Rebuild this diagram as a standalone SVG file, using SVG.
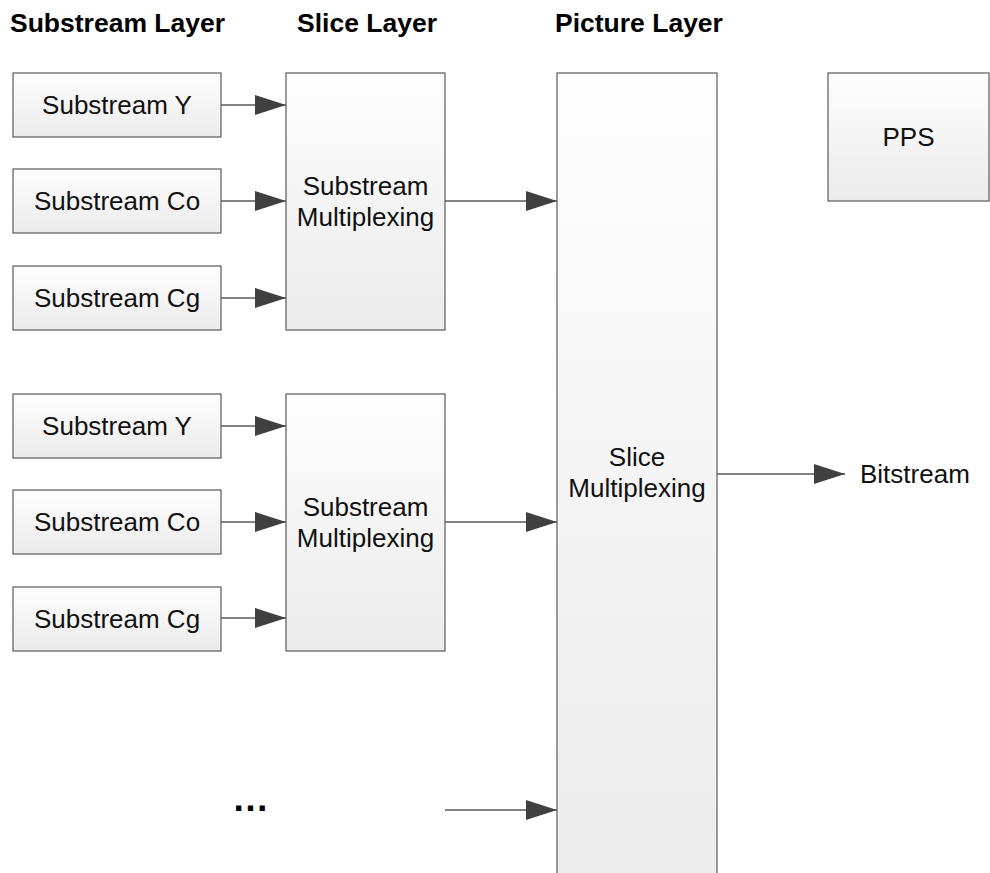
<svg xmlns="http://www.w3.org/2000/svg" width="990" height="873" viewBox="0 0 990 873">
<defs>
<linearGradient id="g" x1="0" y1="0" x2="0" y2="1">
<stop offset="0" stop-color="#fefefe"/>
<stop offset="1" stop-color="#ebebeb"/>
</linearGradient>
<marker id="ah" markerWidth="31" markerHeight="20" refX="31" refY="10" orient="auto" markerUnits="userSpaceOnUse">
<path d="M0,0 L31,10 L0,20 Z" fill="#404040"/>
</marker>
<style>
.box{fill:url(#g);stroke:#5a5a5a;stroke-width:1.2}
.t{font-family:"Liberation Sans",Arial,sans-serif;font-size:26px;fill:#111;text-anchor:middle}
.h{font-family:"Liberation Sans",Arial,sans-serif;font-size:26.5px;font-weight:bold;fill:#000}
.c{stroke:#5a5a5a;stroke-width:1.3;fill:none;marker-end:url(#ah)}
</style>
</defs>
<rect width="990" height="873" fill="#fff"/>
<g id="headers">
<text class="h" x="10" y="32">Substream Layer</text>
<text class="h" x="297" y="32">Slice Layer</text>
<text class="h" x="555" y="32">Picture Layer</text>
</g>
<g id="sy1"><rect class="box" x="13" y="73" width="208" height="64"/><text class="t" x="117" y="114">Substream Y</text></g>
<g id="sco1"><rect class="box" x="13" y="169" width="208" height="64"/><text class="t" x="117" y="210">Substream Co</text></g>
<g id="scg1"><rect class="box" x="13" y="266" width="208" height="64"/><text class="t" x="117" y="307">Substream Cg</text></g>
<g id="sy2"><rect class="box" x="13" y="394" width="208" height="64"/><text class="t" x="117" y="435">Substream Y</text></g>
<g id="sco2"><rect class="box" x="13" y="490" width="208" height="64"/><text class="t" x="117" y="531">Substream Co</text></g>
<g id="scg2"><rect class="box" x="13" y="587" width="208" height="64"/><text class="t" x="117" y="628">Substream Cg</text></g>
<g id="mux1"><rect class="box" x="286" y="73" width="159" height="257"/><text class="t" x="365.5" y="195">Substream</text><text class="t" x="365.5" y="226">Multiplexing</text></g>
<g id="mux2"><rect class="box" x="286" y="394" width="159" height="257"/><text class="t" x="365.5" y="516">Substream</text><text class="t" x="365.5" y="547">Multiplexing</text></g>
<g id="picture"><rect class="box" x="557" y="73" width="160" height="830"/><text class="t" x="637" y="466">Slice</text><text class="t" x="637" y="497">Multiplexing</text></g>
<g id="pps"><rect class="box" x="828" y="73" width="161" height="128"/><text class="t" x="908.5" y="146">PPS</text></g>
<g id="bitstream"><text class="t" x="860" y="483" style="text-anchor:start">Bitstream</text></g>
<g id="ellipsis"><text class="h" x="232" y="811" style="font-size:37px">…</text></g>
<g id="connectors">
<line class="c" x1="221" y1="105" x2="286" y2="105"/>
<line class="c" x1="221" y1="201" x2="286" y2="201"/>
<line class="c" x1="221" y1="298" x2="286" y2="298"/>
<line class="c" x1="221" y1="426" x2="286" y2="426"/>
<line class="c" x1="221" y1="522" x2="286" y2="522"/>
<line class="c" x1="221" y1="618" x2="286" y2="618"/>
<line class="c" x1="445" y1="201" x2="557" y2="201"/>
<line class="c" x1="445" y1="522" x2="557" y2="522"/>
<line class="c" x1="445" y1="810" x2="557" y2="810"/>
<line class="c" x1="717" y1="474" x2="845" y2="474"/>
</g>
</svg>
